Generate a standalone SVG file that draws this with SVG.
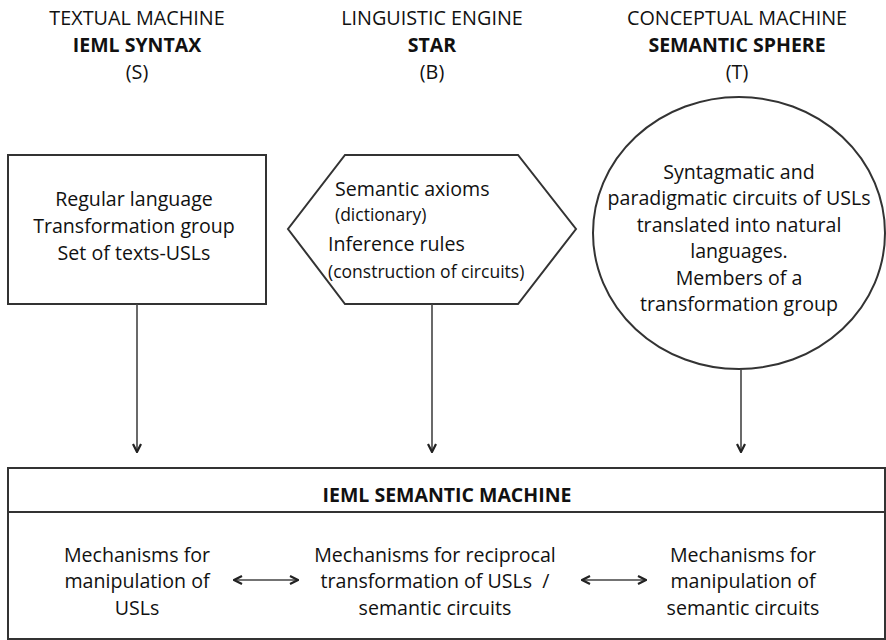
<svg xmlns="http://www.w3.org/2000/svg" width="886" height="640" viewBox="0 0 886 640">
  <defs>
    <marker id="chev" viewBox="0 0 10 10" refX="9" refY="5" markerWidth="10" markerHeight="10" markerUnits="userSpaceOnUse" orient="auto-start-reverse">
      <path d="M1,1 L9,5 L1,9" fill="none" stroke="#222" stroke-width="2.2" stroke-linejoin="miter"/>
    </marker>
    <style>
      .shape { fill: #fff; stroke: #333; stroke-width: 2; }
      .wire { fill: none; stroke: #444; stroke-width: 1.6; }
      text { font-family: "Open Sans", "Liberation Sans", sans-serif; fill: #111; }
      .hd { font-size: 19.8px; text-anchor: middle; }
      .hb { font-size: 19.5px; font-weight: bold; text-anchor: middle; }
      .bd { font-size: 19.6px; text-anchor: middle; }
      .lf { font-size: 19.6px; }
      .sm { font-size: 17.5px; }
    </style>
  </defs>
  <rect width="886" height="640" fill="#fff"/>

  <!-- column headings -->
  <g id="head-syntax">
    <text class="hd" x="137" y="25">TEXTUAL MACHINE</text>
    <text class="hb" x="137" y="52">IEML SYNTAX</text>
    <text class="hd" x="137" y="79">(S)</text>
  </g>
  <g id="head-star">
    <text class="hd" x="432" y="25">LINGUISTIC ENGINE</text>
    <text class="hb" x="432" y="52">STAR</text>
    <text class="hd" x="432" y="79">(B)</text>
  </g>
  <g id="head-sphere">
    <text class="hd" x="737" y="25">CONCEPTUAL MACHINE</text>
    <text class="hb" x="737" y="52">SEMANTIC SPHERE</text>
    <text class="hd" x="737" y="79">(T)</text>
  </g>

  <!-- textual machine: rectangle -->
  <g id="syntax">
    <rect class="shape" x="8" y="155" width="258" height="149"/>
    <text class="bd" x="134" y="206">Regular language</text>
    <text class="bd" x="134" y="233">Transformation group</text>
    <text class="bd" x="134" y="260">Set of texts-USLs</text>
  </g>

  <!-- linguistic engine: hexagon -->
  <g id="star">
    <polygon class="shape" points="345,155 518,155 576,229 518,304 345,304 288,229"/>
    <text class="lf" x="335" y="196">Semantic axioms</text>
    <text class="sm" x="335" y="221">(dictionary)</text>
    <text class="lf" x="328" y="251">Inference rules</text>
    <text class="sm" x="328" y="278">(construction of circuits)</text>
  </g>

  <!-- conceptual machine: sphere -->
  <g id="sphere">
    <ellipse class="shape" cx="739" cy="233" rx="146" ry="136"/>
    <text class="bd" x="739" y="179">Syntagmatic and</text>
    <text class="bd" x="739" y="205">paradigmatic circuits of USLs</text>
    <text class="bd" x="739" y="232">translated into natural</text>
    <text class="bd" x="739" y="258">languages.</text>
    <text class="bd" x="739" y="285">Members of a</text>
    <text class="bd" x="739" y="311">transformation group</text>
  </g>

  <!-- semantic machine -->
  <g id="semantic-machine">
    <rect class="shape" x="8" y="468" width="877" height="171"/>
    <line class="shape" x1="8" y1="512" x2="885" y2="512"/>
    <text class="hb" x="447" y="502">IEML SEMANTIC MACHINE</text>
  </g>
  <g id="mech-usl">
    <text class="bd" x="137" y="562">Mechanisms for</text>
    <text class="bd" x="137" y="588">manipulation of</text>
    <text class="bd" x="137" y="615">USLs</text>
  </g>
  <g id="mech-transform">
    <text class="bd" x="435" y="562">Mechanisms for reciprocal</text>
    <text class="bd" x="435" y="588" xml:space="preserve">transformation of USLs  /</text>
    <text class="bd" x="435" y="615">semantic circuits</text>
  </g>
  <g id="mech-circuits">
    <text class="bd" x="743" y="562">Mechanisms for</text>
    <text class="bd" x="743" y="588">manipulation of</text>
    <text class="bd" x="743" y="615">semantic circuits</text>
  </g>

  <!-- connectors -->
  <g id="connectors">
    <line class="wire" x1="137" y1="304" x2="137" y2="452" marker-end="url(#chev)"/>
    <line class="wire" x1="432" y1="304" x2="432" y2="452" marker-end="url(#chev)"/>
    <line class="wire" x1="741" y1="369" x2="741" y2="452" marker-end="url(#chev)"/>
    <line class="wire" x1="234" y1="580" x2="298" y2="580" marker-start="url(#chev)" marker-end="url(#chev)"/>
    <line class="wire" x1="582" y1="580" x2="646" y2="580" marker-start="url(#chev)" marker-end="url(#chev)"/>
  </g>
</svg>
